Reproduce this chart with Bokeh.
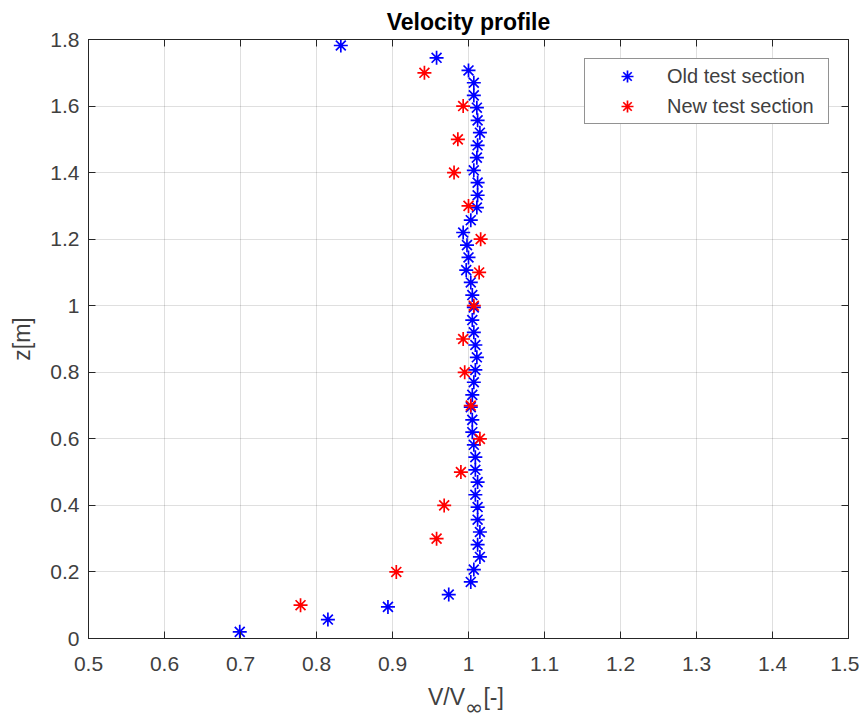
import math
from bokeh.plotting import figure
from bokeh.models import (Range1d, FixedTicker, LinearAxis, Legend, LegendItem,
                          ColumnDataSource, Div, CustomJSTickFormatter)
from bokeh.layouts import column
from bokeh.embed import file_html
from bokeh.resources import INLINE

# ---- data ----
old_z = [0.020, 0.057, 0.095, 0.132, 0.170, 0.207, 0.245, 0.282, 0.320, 0.357,
         0.395, 0.432, 0.470, 0.507, 0.545, 0.582, 0.620, 0.657, 0.695, 0.732,
         0.770, 0.807, 0.845, 0.882, 0.920, 0.957, 0.995, 1.032, 1.070, 1.107,
         1.145, 1.182, 1.220, 1.257, 1.295, 1.332, 1.370, 1.407, 1.445, 1.482,
         1.520, 1.557, 1.595, 1.632, 1.670, 1.707, 1.745, 1.782]
old_v = [0.699, 0.815, 0.894, 0.974, 1.003, 1.007, 1.015, 1.012, 1.015, 1.012,
         1.012, 1.009, 1.012, 1.009, 1.009, 1.007, 1.005, 1.005, 1.003, 1.005,
         1.007, 1.009, 1.011, 1.009, 1.007, 1.005, 1.007, 1.005, 1.003, 0.997,
         1.000, 0.998, 0.993, 1.003, 1.011, 1.012, 1.012, 1.007, 1.011, 1.012,
         1.015, 1.012, 1.011, 1.007, 1.007, 1.000, 0.958, 0.832]

new_z = [0.1, 0.2, 0.3, 0.4, 0.5, 0.6, 0.7, 0.8, 0.9, 1.0, 1.1, 1.2, 1.3, 1.4,
         1.5, 1.6, 1.7]
new_v = [0.779, 0.905, 0.958, 0.968, 0.990, 1.015, 1.003, 0.995, 0.993, 1.007,
         1.014, 1.016, 1.000, 0.981, 0.986, 0.993, 0.942]

x_ticks = [0.5, 0.6, 0.7, 0.8, 0.9, 1.0, 1.1, 1.2, 1.3, 1.4, 1.5]
x_tick_labels = ["0.5", "0.6", "0.7", "0.8", "0.9", "1", "1.1", "1.2", "1.3", "1.4", "1.5"]
y_ticks = [0.0, 0.2, 0.4, 0.6, 0.8, 1.0, 1.2, 1.4, 1.6, 1.8]
y_tick_labels = ["0", "0.2", "0.4", "0.6", "0.8", "1", "1.2", "1.4", "1.6", "1.8"]

title_text = "Velocity profile"
y_label = "z[m]"
old_label = "Old test section"
new_label = "New test section"

FONT = "Liberation Sans"
AX = "#262626"
TXT = "#404040"

p = figure(width=859, height=684, output_backend="svg", toolbar_location=None,
           x_range=Range1d(0.5, 1.5), y_range=Range1d(0, 1.8),
           min_border_left=88, min_border_right=11, min_border_top=39,
           min_border_bottom=46)
p.background_fill_color = "white"
p.border_fill_color = "white"
p.outline_line_color = AX
p.outline_line_width = 1

p.title.text = title_text
p.title.align = "center"
p.title.text_font = FONT
p.title.text_font_size = "23px"
p.title.text_font_style = "bold"
p.title.text_color = "black"
p.title.standoff = 10
p.title.offset = 0

p.xaxis.ticker = FixedTicker(ticks=x_ticks)
p.yaxis.ticker = FixedTicker(ticks=y_ticks)
p.xaxis.major_label_overrides = {t: l for t, l in zip(x_ticks, x_tick_labels)}
p.yaxis.major_label_overrides = {t: l for t, l in zip(y_ticks, y_tick_labels)}

for ax in (p.xaxis[0], p.yaxis[0]):
    ax.axis_line_color = AX
    ax.major_tick_line_color = AX
    ax.major_tick_in = 7
    ax.major_tick_out = 0
    ax.minor_tick_line_color = None
    ax.major_label_text_font = FONT
    ax.major_label_text_font_size = "21px"
    ax.major_label_text_color = TXT
p.xaxis.major_label_standoff = 18
p.yaxis.major_label_standoff = 9

p.yaxis.axis_label = y_label
p.yaxis.axis_label_text_font = FONT
p.yaxis.axis_label_text_font_size = "23px"
p.yaxis.axis_label_text_font_style = "normal"
p.yaxis.axis_label_text_color = TXT
p.yaxis.axis_label_standoff = 12

# mirrored axes (box with inward ticks, no labels)
blank = CustomJSTickFormatter(code="return ''")
top = LinearAxis(ticker=FixedTicker(ticks=x_ticks), formatter=blank,
                 major_label_standoff=0, major_tick_in=7, major_tick_out=0,
                 minor_tick_line_color=None, axis_line_color=AX, major_tick_line_color=AX)
right = LinearAxis(ticker=FixedTicker(ticks=y_ticks), formatter=blank,
                   major_label_standoff=0, major_tick_in=7, major_tick_out=0,
                   minor_tick_line_color=None, axis_line_color=AX, major_tick_line_color=AX)
p.add_layout(top, "above")
p.add_layout(right, "right")

p.xgrid.ticker = FixedTicker(ticks=x_ticks)
p.ygrid.ticker = FixedTicker(ticks=y_ticks)
p.grid.grid_line_color = AX
p.grid.grid_line_alpha = 0.15

src_old = ColumnDataSource(dict(v=old_v, z=old_z))
src_new = ColumnDataSource(dict(v=new_v, z=new_z))
r_old = p.scatter("v", "z", source=src_old, marker="asterisk", size=14,
                  line_color="#0000ff", line_width=1.7)
r_new = p.scatter("v", "z", source=src_new, marker="asterisk", size=14,
                  line_color="#ff0000", line_width=1.7)

legend = Legend(items=[LegendItem(label=old_label, renderers=[r_old]),
                       LegendItem(label=new_label, renderers=[r_new])],
                location="top_right", margin=19, padding=2, spacing=0,
                glyph_width=80, glyph_height=30, label_standoff=0, label_width=159,
                label_text_font=FONT, label_text_font_size="20px",
                label_text_color=TXT, border_line_color=AX, border_line_width=1,
                background_fill_color="white", background_fill_alpha=1)
p.add_layout(legend, "center")

xlabel = Div(text='V/V<span style="font-family:\'DejaVu Sans\';font-size:22px;'
                  'position:relative;top:10px;">&infin;</span>[-]',
             width=859, height=38,
             styles={"font-family": FONT, "font-size": "23px", "color": TXT,
                     "line-height": "26px", "padding-left": "423px",
                     "margin-top": "0px", "white-space": "nowrap"})

layout = column(p, xlabel, spacing=0)
open("out.html", "w").write(file_html(layout, INLINE))
